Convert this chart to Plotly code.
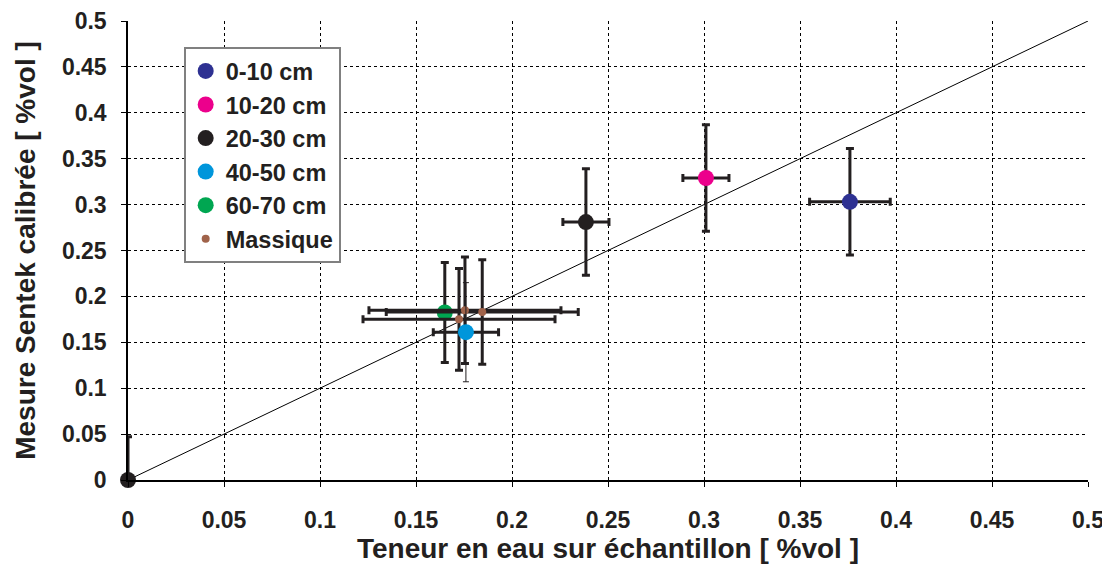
import plotly.graph_objects as go

# ---- data ----
series_names = ["0-10 cm", "10-20 cm", "20-30 cm", "40-50 cm", "60-70 cm", "Massique"]
series_colors = ["#2E3192", "#EC008C", "#231F20", "#0096DB", "#00A651", "#A0634A"]

x_0_10 = [0.376]; y_0_10 = [0.303]; ex_0_10 = [0.021]; ey_0_10 = [0.058]
x_10_20 = [0.301]; y_10_20 = [0.329]; ex_10_20 = [0.012]; ey_10_20 = [0.058]
x_20_30 = [0.0, 0.2385]; y_20_30 = [0.0, 0.281]; ex_20_30 = [0.0, 0.012]
ey_20_30_plus = [0.047, 0.058]; ey_20_30_minus = [0.0, 0.058]
x_40_50 = [0.176]; y_40_50 = [0.161]; ex_40_50 = [0.017]; ey_40_50 = [0.054]
x_60_70 = [0.165]; y_60_70 = [0.1825]; ey_60_70 = [0.0545]
x_mass = [0.1755, 0.1724, 0.1845]; y_mass = [0.185, 0.175, 0.183]
ex_mass = [0.050, 0.050, 0.050]; ey_mass = [0.058, 0.0555, 0.057]

diag_x = [0.0, 0.5]; diag_y = [0.0, 0.5]

tick_vals = [0, 0.05, 0.1, 0.15, 0.2, 0.25, 0.3, 0.35, 0.4, 0.45, 0.5]
tick_text = ["0", "0.05", "0.1", "0.15", "0.2", "0.25", "0.3", "0.35", "0.4", "0.45", "0.5"]

FONT = "Liberation Sans, Arial, sans-serif"
INK = "#231F20"
EB = dict(type="data", visible=True, color=INK, thickness=3, width=4)

fig = go.Figure()
fig.add_trace(go.Scatter(x=diag_x, y=diag_y, mode="lines", line=dict(color="black", width=1),
                         showlegend=False, hoverinfo="skip"))

def add(name, color, x, y, ex=None, ey=None, ey_minus=None, size=16, ey_style=None):
    kw = {}
    if ex is not None:
        kw["error_x"] = dict(array=ex, symmetric=True, **EB)
    if ey is not None:
        st = dict(EB) if ey_style is None else ey_style
        if ey_minus is not None:
            kw["error_y"] = dict(array=ey, arrayminus=ey_minus, symmetric=False, **st)
        else:
            kw["error_y"] = dict(array=ey, symmetric=True, **st)
    fig.add_trace(go.Scatter(x=x, y=y, mode="markers", name=name,
                             legendrank=series_names.index(name) + 1,
                             marker=dict(color=color, size=size), cliponaxis=False, **kw))

add(series_names[0], series_colors[0], x_0_10, y_0_10, ex_0_10, ey_0_10)
add(series_names[1], series_colors[1], x_10_20, y_10_20, ex_10_20, ey_10_20)
add(series_names[2], series_colors[2], x_20_30, y_20_30, ex_20_30, ey_20_30_plus, ey_20_30_minus)
add(series_names[4], series_colors[4], x_60_70, y_60_70, None, ey_60_70)
add(series_names[5], series_colors[5], x_mass, y_mass, ex_mass, ey_mass, size=8)
add(series_names[3], series_colors[3], x_40_50, y_40_50, ex_40_50, ey_40_50,
    ey_style=dict(type="data", visible=True, color=INK, thickness=1, width=3))

axis_common = dict(range=[0, 0.5], tickvals=tick_vals, ticktext=tick_text,
                   showgrid=True, gridcolor="black", griddash="dot", gridwidth=1,
                   showline=True, linecolor="black", linewidth=1.5, zeroline=False,
                   ticks="outside", ticklen=5, tickcolor="black", automargin=False,
                   tickfont=dict(family=FONT, size=23, color=INK, weight="bold"))

# page body has an 8px margin: size the figure to fit the window
fig.update_layout(
    width=1102, height=556,
    margin=dict(l=120, r=22, t=13, b=84),
    plot_bgcolor="white", paper_bgcolor="white",
    font=dict(family=FONT, color=INK),
    xaxis=dict(axis_common,
               title=dict(text="Teneur en eau sur échantillon [ %vol ]",
                          font=dict(family=FONT, size=28, color=INK, weight="bold"), standoff=4),
               ticklabelstandoff=14),
    yaxis=dict(axis_common,
               title=dict(text="Mesure Sentek calibrée [ %vol ]",
                          font=dict(family=FONT, size=28, color=INK, weight="bold"), standoff=18),
               ticklabelstandoff=10),
    legend=dict(x=0.058, y=0.943, xanchor="left", yanchor="top",
                bgcolor="white", bordercolor="#808080", borderwidth=2,
                font=dict(family=FONT, size=23.5, color=INK, weight="bold"),
                itemwidth=30),
    showlegend=True,
)

fig.write_html("out.html")
